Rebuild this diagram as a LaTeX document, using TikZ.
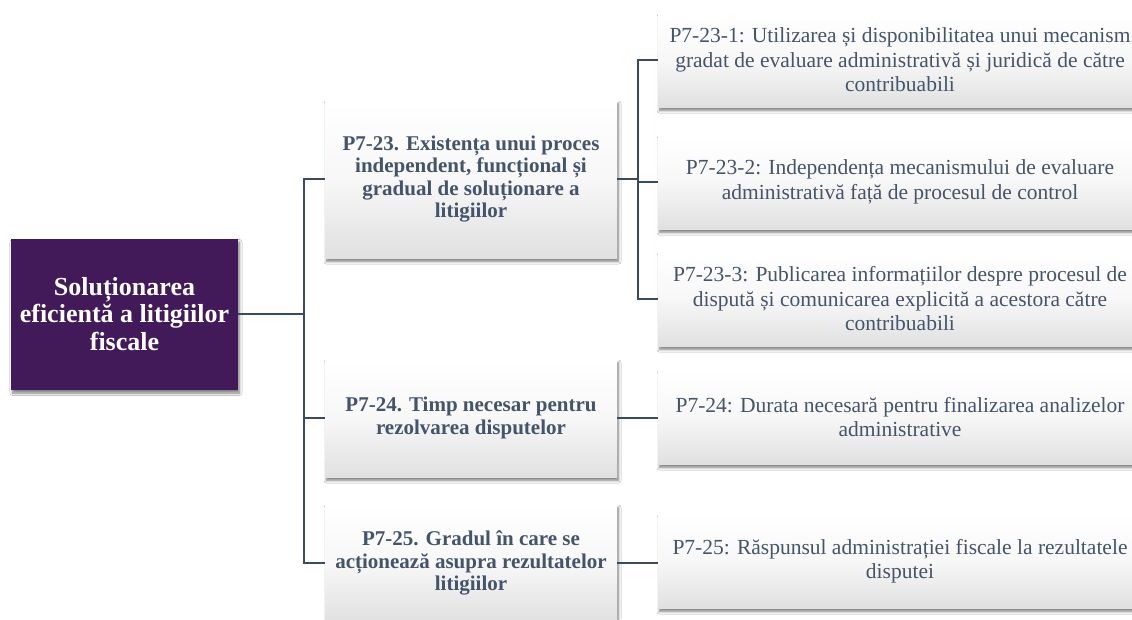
\documentclass[tikz,border=0pt]{standalone}
\usepackage{fontspec}
\setmainfont{Liberation Serif}
\usetikzlibrary{shadows,shadows.blur,calc}
\definecolor{rootpurple}{HTML}{421A5A}
\definecolor{slate}{HTML}{44546A}
\definecolor{linecol}{HTML}{3C4A5E}
\tikzset{
  softshadow/.style={blur shadow={shadow xshift=1.5pt, shadow yshift=-3.5pt,
    shadow blur radius=2.5pt, shadow blur steps=6, shadow opacity=50}},
  box/.style={shape=rectangle, inner sep=2pt, align=center, text=slate,
    top color=white, bottom color=black!12, middle color=black!3,
    softshadow},
  rootbox/.style={shape=rectangle, fill=rootpurple, text=white, align=center,
    minimum width=227pt, minimum height=151pt, inner sep=1pt,
    font=\bfseries\fontsize{26}{27.5}\selectfont, softshadow},
  midbox/.style={box, minimum width=292pt, font=\bfseries\fontsize{21}{22.5}\selectfont},
  rightbox/.style={box, minimum width=484pt, minimum height=94pt, font=\fontsize{21.5}{24.5}\selectfont},
  conn/.style={draw=linecol, line width=2.8pt}
}
\begin{document}
\begin{tikzpicture}[x=1pt,y=-1pt]
\useasboundingbox (0,0) rectangle (1132,619);
\clip (0,0) rectangle (1132,619);
\fill[white] (0,0) rectangle (1132,619);
\coordinate (busL) at (304,0);
\coordinate (busR) at (638,0);
\node[rootbox] (root) at (124.5,314) {Soluționarea\\eficientă a litigiilor\\fiscale};
\node[midbox, minimum height=158pt] (m1) at (471,179) {P7-23. Existența unui proces\\independent, funcțional și\\gradual de soluționare a\\litigiilor};
\node[midbox, minimum height=118pt] (m2) at (471,418) {P7-24. Timp necesar pentru\\rezolvarea disputelor};
\node[midbox, minimum height=118pt] (m3) at (471,563) {P7-25. Gradul în care se\\acționează asupra rezultatelor\\litigiilor};
\node[rightbox] (r1) at (900,60) {P7-23-1: Utilizarea și disponibilitatea unui mecanism\\gradat de evaluare administrativă și juridică de către\\contribuabili};
\node[rightbox] (r2) at (900,182) {P7-23-2: Independența mecanismului de evaluare\\administrativă față de procesul de control};
\node[rightbox] (r3) at (900,299) {P7-23-3: Publicarea informațiilor despre procesul de\\dispută și comunicarea explicită a acestora către\\contribuabili};
\node[rightbox] (r4) at (900,417) {P7-24: Durata necesară pentru finalizarea analizelor\\administrative};
\node[rightbox] (r5) at (900,561) {P7-25: Răspunsul administrației fiscale la rezultatele\\disputei};
% left tree
\draw[conn] (root.east) -- (root.east -| busL);
\draw[conn] (m1.west) -- (m1.west -| busL) |- (m3.west);
\draw[conn] (m2.west) -- (m2.west -| busL);
% right tree
\draw[conn] (m1.east) -- (m1.east -| busR);
\draw[conn] (r1.west) -- (r1.west -| busR) |- (r3.west);
\draw[conn] (r2.west) -- (r2.west -| busR);
\draw[conn] (m2.east) -- (m2.east -| r4.west);
\draw[conn] (m3.east) -- (m3.east -| r5.west);
\end{tikzpicture}
\end{document}
